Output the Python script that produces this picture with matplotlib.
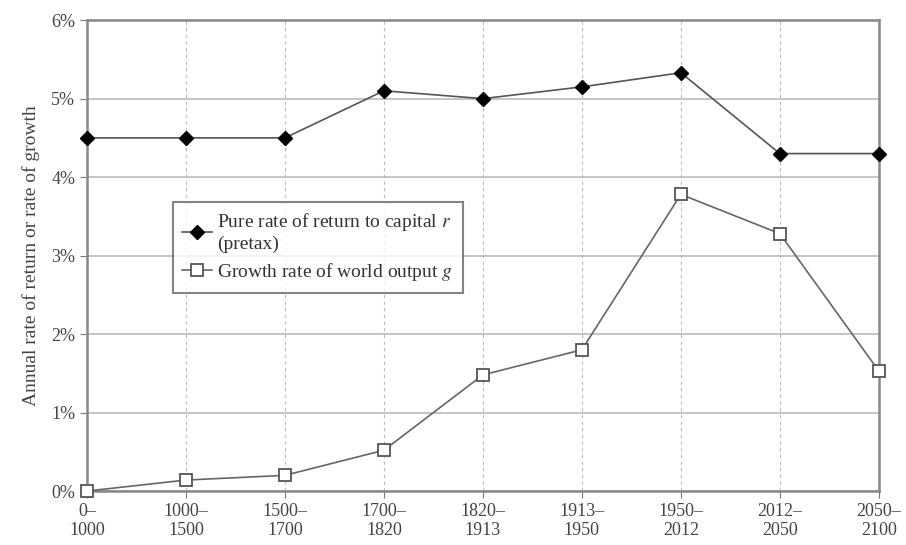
import matplotlib
matplotlib.use("Agg")
import matplotlib.pyplot as plt
from matplotlib.ticker import FuncFormatter

periods = ["0–\n1000", "1000–\n1500", "1500–\n1700", "1700–\n1820", "1820–\n1913",
           "1913–\n1950", "1950–\n2012", "2012–\n2050", "2050–\n2100"]
r_values = [4.5, 4.5, 4.5, 5.1, 5.0, 5.15, 5.33, 4.3, 4.3]
g_values = [0.0, 0.14, 0.2, 0.52, 1.48, 1.8, 3.78, 3.28, 1.53]

plt.rcParams['font.family'] = ['Liberation Serif', 'DejaVu Serif']
plt.rcParams['mathtext.fontset'] = 'stix'
txt = '#444444'

fig = plt.figure(figsize=(9.06, 5.45), dpi=100)
ax = fig.add_axes([0.096, 0.099, 0.874, 0.864])
x = list(range(len(periods)))

ax.plot(x, r_values, color='#555555', lw=1.2, marker='D', ms=7, mfc='black', mec='black',
        label='Pure rate of return to capital $r$\n(pretax)', zorder=3, clip_on=False)
ax.plot(x, g_values, color='#666666', lw=1.2, marker='s', ms=8, mfc='white', mec='#555555', mew=1.3,
        label='Growth rate of world output $g$', zorder=3, clip_on=False)

ax.set_xlim(0, len(periods) - 1)
ax.set_ylim(0, 6)
ax.set_yticks(range(0, 7))
ax.yaxis.set_major_formatter(FuncFormatter(lambda v, p: f"{int(v)}%"))
ax.set_xticks(x)
ax.set_xticklabels(periods)
ax.tick_params(colors='#777777', labelcolor=txt, labelsize=13, length=5, direction='out')
ax.grid(axis='y', color='#bbbbbb', lw=1.2)
ax.grid(axis='x', color='#bbbbbb', lw=0.8, ls=(0, (3, 3)))
ax.set_axisbelow(True)
for s in ax.spines.values():
    s.set_color('#888888')
    s.set_linewidth(1.8)
ax.set_ylabel('Annual rate of return or rate of growth', fontsize=14, color=txt, labelpad=8)

leg = ax.legend(loc='upper left', bbox_to_anchor=(0.096, 0.635), fontsize=14, frameon=True,
                fancybox=False, edgecolor='#666666', handlelength=1.5, handletextpad=0.3,
                borderpad=0.5, labelspacing=0.4)
leg.get_frame().set_linewidth(1.5)
for t in leg.get_texts():
    t.set_color('#333333')

fig.savefig('out.png', dpi=100)
